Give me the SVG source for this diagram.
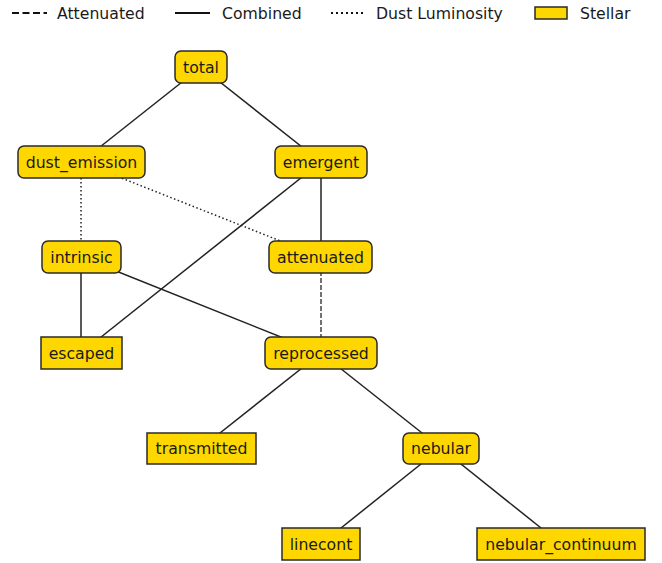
<svg xmlns="http://www.w3.org/2000/svg" width="662" height="563" viewBox="0 0 662 563">
<style>
text{font-family:"DejaVu Sans","Liberation Sans",sans-serif;font-size:15.7px;fill:#1a1a1a;dominant-baseline:central;text-anchor:middle}
.lg{text-anchor:start}
.n{fill:#FFD700;stroke:#2a2a2a;stroke-width:1.5}
.e{stroke:#222;stroke-width:1.5;fill:none}
.l{stroke:#111;stroke-width:2;fill:none}
.dot{stroke-dasharray:1.5 2.5}
.dash{stroke-dasharray:5 2;stroke:#444}
</style>
<rect width="662" height="563" fill="#fff"/>
<g id="legend">
<line class="l" x1="12" y1="13" x2="47" y2="13" stroke-dasharray="7 3.5"/>
<text class="lg" x="57" y="13">Attenuated</text>
<line class="l" x1="175" y1="13" x2="210" y2="13"/>
<text class="lg" x="222" y="13">Combined</text>
<line class="l" x1="331" y1="13" x2="366" y2="13" stroke-dasharray="2 3"/>
<text class="lg" x="376" y="13">Dust Luminosity</text>
<rect class="n" x="535" y="7" width="32" height="12"/>
<text class="lg" x="580" y="13">Stellar</text>
</g>
<g id="connectors">
<line class="e" x1="201" y1="67" x2="81" y2="162"/>
<line class="e" x1="201" y1="67" x2="321" y2="162"/>
<line class="e dot" x1="81" y1="162" x2="81" y2="257"/>
<line class="e dot" x1="81" y1="162" x2="321" y2="257"/>
<line class="e" x1="321" y1="162" x2="321" y2="257"/>
<line class="e" x1="321" y1="162" x2="81" y2="353"/>
<line class="e" x1="81" y1="257" x2="81" y2="353"/>
<line class="e" x1="81" y1="257" x2="321" y2="353"/>
<line class="e dash" x1="321" y1="257" x2="321" y2="353"/>
<line class="e" x1="321" y1="353" x2="201" y2="448"/>
<line class="e" x1="321" y1="353" x2="441" y2="448"/>
<line class="e" x1="441" y1="448" x2="321" y2="544"/>
<line class="e" x1="441" y1="448" x2="561" y2="544"/>
</g>
<g id="total"><rect class="n" x="175" y="51" width="52" height="32" rx="6"/><text x="201" y="67">total</text></g>
<g id="dust_emission"><rect class="n" x="18" y="146" width="127" height="32" rx="6"/><text x="81.5" y="162">dust_emission</text></g>
<g id="emergent"><rect class="n" x="275" y="146" width="92" height="32" rx="6"/><text x="321" y="162">emergent</text></g>
<g id="intrinsic"><rect class="n" x="42" y="241" width="79" height="32" rx="6"/><text x="81.5" y="257">intrinsic</text></g>
<g id="attenuated"><rect class="n" x="269" y="241" width="103" height="32" rx="6"/><text x="320.5" y="257">attenuated</text></g>
<g id="escaped"><rect class="n" x="41" y="337" width="81" height="32"/><text x="81.5" y="353">escaped</text></g>
<g id="reprocessed"><rect class="n" x="265" y="337" width="112" height="32" rx="6"/><text x="321" y="353">reprocessed</text></g>
<g id="transmitted"><rect class="n" x="147" y="433" width="109" height="31"/><text x="201.5" y="448">transmitted</text></g>
<g id="nebular"><rect class="n" x="403" y="433" width="76" height="31" rx="6"/><text x="441" y="448">nebular</text></g>
<g id="linecont"><rect class="n" x="282" y="528" width="78" height="32"/><text x="321" y="544">linecont</text></g>
<g id="nebular_continuum"><rect class="n" x="477" y="528" width="168" height="32"/><text x="561" y="544">nebular_continuum</text></g>
</svg>
